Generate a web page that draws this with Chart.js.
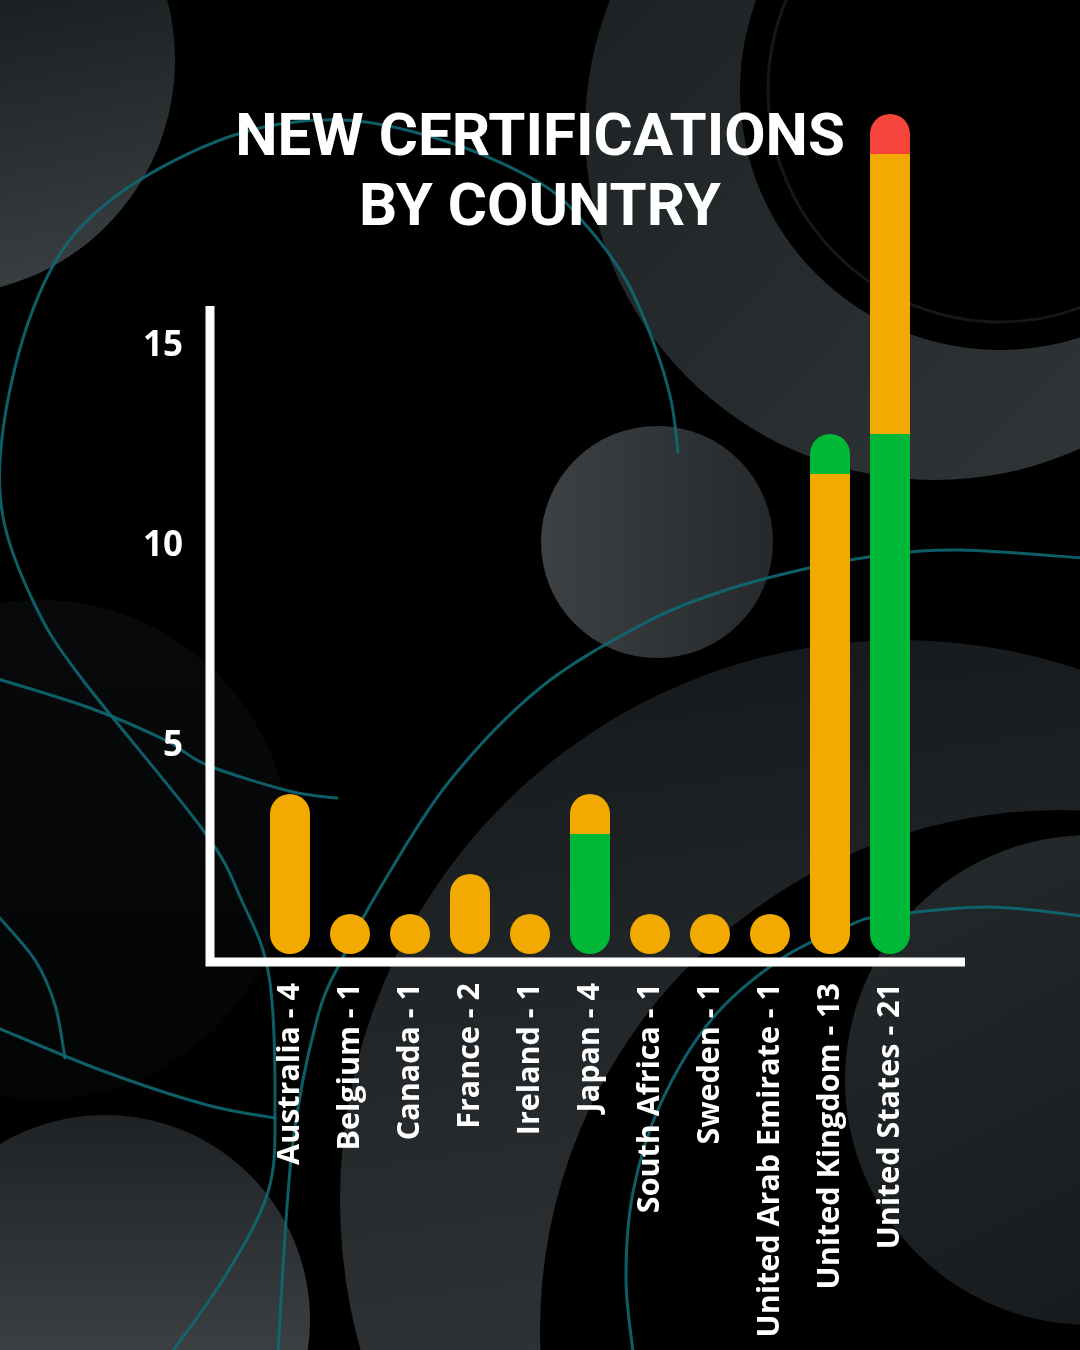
<!DOCTYPE html>
<html>
<head>
<meta charset="utf-8">
<script src="https://cdn.jsdelivr.net/npm/chart.js@4.4.1/dist/chart.umd.min.js"></script>
<style>
  html, body { margin: 0; padding: 0; background: #000; }
  #wrap { width: 1080px; height: 1350px; position: relative; }
  canvas { display: block; }
</style>
</head>
<body>
<div id="wrap"><canvas id="c" width="1080" height="1350"></canvas></div>
<script>
// ---------- DATA ----------
const categories = [
  'Australia - 4', 'Belgium - 1', 'Canada - 1', 'France - 2', 'Ireland - 1',
  'Japan - 4', 'South Africa - 1', 'Sweden - 1', 'United Arab Emirate - 1',
  'United Kingdom - 13', 'United States - 21'
];
// stacked segments, bottom to top
const greenBase = [null, null, null, null, null, 3, null, null, null, null, 13];
const orangeMid = [4, 1, 1, 2, 1, 1, 1, 1, 1, 12, 7];
const greenTop  = [null, null, null, null, null, null, null, null, null, 1, null];
const redTop    = [null, null, null, null, null, null, null, null, null, null, 1];
const yTicks = [5, 10, 15];
const titleLines = ['NEW CERTIFICATIONS', 'BY COUNTRY'];

// ---------- STYLE ----------
const GREEN = '#00B837';
const ORANGE = '#F2AA00';
const RED = '#F5453B';
const stackOrder = [greenBase, orangeMid, greenTop, redTop];

function pillRadius(ctx) {
  if (ctx.dataIndex === undefined) return 0;
  const i = ctx.dataIndex, d = ctx.datasetIndex;
  let first = -1, last = -1;
  stackOrder.forEach((arr, k) => {
    if (arr[i] != null && arr[i] > 0) { if (first < 0) first = k; last = k; }
  });
  const r = 20;
  const t = d === last ? r : 0, b = d === first ? r : 0;
  return { topLeft: t, topRight: t, bottomLeft: b, bottomRight: b };
}

function smoothPath(ctx, pts) {
  ctx.beginPath();
  ctx.moveTo(pts[0][0], pts[0][1]);
  for (let i = 0; i < pts.length - 1; i++) {
    const p0 = pts[i - 1] || pts[i], p1 = pts[i], p2 = pts[i + 1], p3 = pts[i + 2] || p2;
    const c1x = p1[0] + (p2[0] - p0[0]) / 6, c1y = p1[1] + (p2[1] - p0[1]) / 6;
    const c2x = p2[0] - (p3[0] - p1[0]) / 6, c2y = p2[1] - (p3[1] - p1[1]) / 6;
    ctx.bezierCurveTo(c1x, c1y, c2x, c2y, p2[0], p2[1]);
  }
}

function disc(ctx, cx, cy, r, fill) {
  ctx.beginPath();
  ctx.arc(cx, cy, r, 0, Math.PI * 2);
  ctx.fillStyle = fill;
  ctx.fill();
}
function lin(ctx, x0, y0, x1, y1, stops) {
  const g = ctx.createLinearGradient(x0, y0, x1, y1);
  stops.forEach(s => g.addColorStop(s[0], s[1]));
  return g;
}

const backgroundPlugin = {
  id: 'bgDeco',
  beforeDraw(chart) {
    const ctx = chart.ctx;
    const W = chart.width, H = chart.height;
    ctx.save();
    ctx.fillStyle = '#000';
    ctx.fillRect(0, 0, W, H);

    // faint left disc
    disc(ctx, 40, 850, 250, lin(ctx, 0, 620, 0, 1100, [[0, '#08090a'], [1, '#030404']]));
    // top-left disc
    disc(ctx, -60, 60, 235, lin(ctx, 0, 0, 60, 290, [[0, '#1a1f21'], [1, '#3a3f41']]));
    // top-right ring
    disc(ctx, 935, 130, 350, lin(ctx, 590, 0, 1080, 480, [[0, '#1d2224'], [1, '#2f3436']]));
    disc(ctx, 1000, 90, 260, '#000');
    ctx.beginPath(); ctx.arc(1000, 90, 232, 0, Math.PI * 2);
    ctx.strokeStyle = '#14181a'; ctx.lineWidth = 3; ctx.stroke();
    // bottom-right group
    disc(ctx, 900, 1200, 560, lin(ctx, 500, 650, 600, 1350, [[0, '#15191b'], [1, '#2e3234']]));
    disc(ctx, 1060, 1330, 520, '#000');
    disc(ctx, 1090, 1080, 245, lin(ctx, 850, 850, 1080, 1300, [[0, '#24292b'], [1, '#181c1e']]));
    // middle disc
    disc(ctx, 657, 542, 116, lin(ctx, 541, 542, 773, 542, [[0, '#3d4143'], [1, '#25292b']]));
    // bottom-left disc
    disc(ctx, 105, 1320, 205, lin(ctx, 0, 1115, 0, 1350, [[0, '#1e2224'], [1, '#3b3f41']]));

    // teal arcs
    ctx.strokeStyle = 'rgba(14,104,114,0.9)';
    ctx.lineWidth = 3;
    ctx.lineCap = 'round';
    const arcs = [
      [[678,452],[671,400],[654,344],[626,280],[585,224],[540,183],[448,142],[344,120],[241,133],[138,181],[69,241],[28,323],[3,430],[3,517],[34,603],[79,675],[203,830],[241,899],[269,976],[275,1105],[268,1192],[224,1278],[172,1352]],
      [[-2,679],[90,708],[165,740],[207,765],[289,791],[337,798]],
      [[-2,916],[35,960],[55,1005],[65,1058]],
      [[-2,1028],[103,1071],[207,1105],[275,1118]],
      [[1082,558],[960,550],[884,555],[809,568],[720,592],[643,624],[540,688],[448,783],[379,890],[344,955],[317,1019],[292,1150],[278,1352]],
      [[1082,916],[988,907],[884,916],[850,925],[781,959],[712,1019],[660,1105],[633,1192],[626,1278],[633,1352]]
    ];
    arcs.forEach(p => { smoothPath(ctx, p); ctx.stroke(); });
    ctx.restore();
  }
};

const axesPlugin = {
  id: 'axesLines',
  beforeDatasetsDraw(chart) {
    const ctx = chart.ctx, a = chart.chartArea;
    ctx.save();
    ctx.strokeStyle = '#ffffff';
    ctx.lineWidth = 9;
    ctx.lineCap = 'butt';
    ctx.beginPath();
    ctx.moveTo(a.left - 50, a.top);
    ctx.lineTo(a.left - 50, a.bottom + 12.5);
    ctx.moveTo(a.left - 54.5, a.bottom + 8);
    ctx.lineTo(a.right + 45, a.bottom + 8);
    ctx.stroke();
    ctx.restore();
  }
};

const ds = (label, data, color) => ({
  label, data, backgroundColor: color, stack: 's',
  borderWidth: 0, borderSkipped: false, borderRadius: pillRadius,
  barThickness: 40, clip: false, inflateAmount: 0, yAxisID: 'y'
});

new Chart(document.getElementById('c'), {
  type: 'bar',
  data: {
    labels: categories,
    datasets: [
      ds('Green', greenBase, GREEN),
      ds('Orange', orangeMid, ORANGE),
      ds('Green (top)', greenTop, GREEN),
      ds('Red', redTop, RED)
    ]
  },
  options: {
    responsive: false,
    animation: false,
    devicePixelRatio: 1,
    layout: { padding: { left: 130, right: 130, top: 0, bottom: 0 } },
    plugins: {
      legend: { display: false },
      tooltip: { enabled: false },
      title: {
        display: true,
        text: titleLines,
        color: '#ffffff',
        font: { family: 'Roboto', weight: 'bold', size: 60, lineHeight: 70 / 60 },
        padding: { top: 105, bottom: 61 }
      }
    },
    scales: {
      x: {
        stacked: true,
        grid: { display: false, drawTicks: false },
        border: { display: false },
        ticks: {
          color: '#ffffff',
          font: { family: 'Open Sans', weight: 'bold', size: 30.5 },
          minRotation: 90, maxRotation: 90, autoSkip: false, padding: 29
        },
        afterFit(s) { s.height = 396; }
      },
      y: {
        position: 'left',
        stacked: true,
        min: 0, max: 16.2,
        grid: { display: false, drawTicks: false },
        border: { display: false },
        ticks: {
          color: '#ffffff',
          font: { family: 'Open Sans', weight: 'bold', size: 35 },
          padding: 77, labelOffset: -8
        },
        afterBuildTicks(s) { s.ticks = yTicks.map(v => ({ value: v })); },
        afterFit(s) { s.width = 130; }
      },
      yRight: {
        position: 'right',
        grid: { display: false, drawTicks: false },
        border: { display: false },
        ticks: { display: false },
        afterFit(s) { s.width = 30; }
      }
    }
  },
  plugins: [backgroundPlugin, axesPlugin]
});
</script>
</body>
</html>
